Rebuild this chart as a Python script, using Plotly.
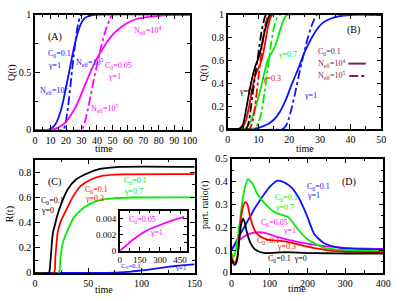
import plotly.graph_objects as go

# ---------------- DATA ----------------
# Panel A : Q(t)
tA_b_sol = [0, 7.5, 10, 12, 14, 16, 18, 20, 22, 24, 26, 28, 30, 32, 35, 40, 100]
qA_b_sol = [0, 0, 0.01, 0.03, 0.07, 0.14, 0.24, 0.37, 0.5, 0.64, 0.76, 0.86, 0.93, 0.97, 0.99, 1, 1]
tA_b_dd = [0, 18.5, 19, 20, 21, 22, 23, 24, 25, 26, 27, 28, 29, 30, 100]
qA_b_dd = [0, 0, 0.02, 0.08, 0.17, 0.28, 0.4, 0.53, 0.65, 0.76, 0.86, 0.93, 0.98, 1, 1]
tA_m_sol = [0, 10, 15, 20, 25, 28, 32, 36, 40, 44, 48, 52, 56, 60, 65, 70, 80, 90, 100]
qA_m_sol = [0, 0, 0.02, 0.07, 0.17, 0.25, 0.38, 0.51, 0.62, 0.71, 0.79, 0.85, 0.895, 0.93, 0.96, 0.975, 0.99, 1, 1]
tA_m_dd = [0, 30, 31, 32, 34, 36, 38, 40, 42, 44, 46, 48, 50, 100]
qA_m_dd = [0, 0, 0.02, 0.06, 0.17, 0.3, 0.44, 0.56, 0.68, 0.79, 0.88, 0.95, 1, 1]

# Panel B : Q(t), C0=0.1
tB_k_sol = [0, 3.5, 4, 5, 6, 7, 8, 9, 10, 11, 12, 13, 13.8, 50]
qB_k_sol = [0, 0, 0.005, 0.04, 0.17, 0.32, 0.45, 0.55, 0.62, 0.72, 0.85, 0.95, 1, 1]
tB_k_dd = [0, 6, 7, 8, 9, 10, 11, 12, 12.5, 50]
qB_k_dd = [0, 0, 0.08, 0.28, 0.48, 0.66, 0.85, 0.97, 1, 1]
tB_r_sol = [0, 4, 5, 6, 7, 8, 9, 10, 11, 12, 13, 14, 14.5, 50]
qB_r_sol = [0, 0, 0.02, 0.08, 0.2, 0.35, 0.47, 0.53, 0.6, 0.72, 0.88, 0.98, 1, 1]
tB_r_dd = [0, 7, 8, 9, 10, 11, 12, 13, 13.5, 50]
qB_r_dd = [0, 0, 0.05, 0.22, 0.45, 0.68, 0.88, 0.98, 1, 1]
tB_g_sol = [0, 5, 6, 7, 8, 9, 10, 11, 12, 13, 14, 15, 16, 17, 18, 19, 20, 50]
qB_g_sol = [0, 0, 0.01, 0.04, 0.1, 0.18, 0.28, 0.38, 0.5, 0.6, 0.65, 0.7, 0.77, 0.86, 0.94, 0.99, 1, 1]
tB_g_dd = [0, 8.5, 10, 11, 12, 13, 14, 15, 16, 17, 50]
qB_g_dd = [0, 0, 0.05, 0.15, 0.32, 0.52, 0.72, 0.88, 0.97, 1, 1]
tB_b_sol = [0, 7, 10, 13, 15, 17, 19, 21, 23, 25, 27, 29, 31, 33, 36, 40, 45, 50]
qB_b_sol = [0, 0, 0.01, 0.04, 0.08, 0.15, 0.26, 0.4, 0.53, 0.67, 0.78, 0.87, 0.93, 0.96, 0.985, 0.997, 1, 1]
tB_b_dd = [0, 18, 19, 20, 21, 22, 23, 24, 25, 26, 27, 28, 29, 50]
qB_b_dd = [0, 0, 0.03, 0.1, 0.2, 0.32, 0.45, 0.57, 0.68, 0.79, 0.88, 0.95, 1, 1]

# Panel C : R(t)
tC_k = [0, 13, 14, 15, 16, 17, 18.3, 20.8, 24.5, 30.6, 38.2, 48.9, 61, 79.5, 150]
rC_k = [0, 0, 0.05, 0.15, 0.26, 0.33, 0.37, 0.455, 0.547, 0.663, 0.74, 0.79, 0.826, 0.843, 0.843]
tC_r = [0, 17.7, 19, 20, 21.4, 24.5, 29, 35.2, 42.8, 52, 64, 82.6, 150]
rC_r = [0, 0, 0.12, 0.22, 0.33, 0.417, 0.495, 0.6, 0.69, 0.74, 0.772, 0.783, 0.785]
tC_g = [0, 22, 23.9, 26, 30.6, 36.7, 45.9, 58, 73.4, 91.7, 150]
rC_g = [0, 0, 0.13, 0.236, 0.34, 0.443, 0.52, 0.573, 0.593, 0.599, 0.6]
tC_b = [0, 60, 75, 90, 100, 110, 120, 130, 140, 150]
rC_b = [0, 0, 0.003, 0.01, 0.02, 0.03, 0.042, 0.053, 0.062, 0.068]
# inset : C0=0.05, gamma=1
tC_in = [0, 50, 100, 150, 200, 300, 400, 480]
rC_in = [0, 0.0007, 0.0014, 0.002, 0.0025, 0.0032, 0.0038, 0.0042]

# Panel D : participation ratio
tD_k = [0, 5, 9, 15, 20, 25, 30, 35, 40, 50, 60, 70, 85, 100, 130, 160, 200, 250, 300, 400]
pD_k = [0.06, 0.04, 0.035, 0.06, 0.14, 0.21, 0.237, 0.22, 0.18, 0.13, 0.105, 0.095, 0.088, 0.087, 0.09, 0.09, 0.087, 0.086, 0.085, 0.085]
tD_r = [0, 5, 9, 15, 20, 25, 30, 37, 42, 47, 55, 65, 75, 90, 110, 130, 150, 175, 200, 250, 300, 400]
pD_r = [0.07, 0.05, 0.045, 0.07, 0.15, 0.24, 0.29, 0.31, 0.3, 0.26, 0.21, 0.175, 0.16, 0.148, 0.142, 0.14, 0.135, 0.125, 0.115, 0.1, 0.093, 0.09]
tD_g = [0, 5, 10, 20, 30, 43, 55, 70, 90, 110, 130, 150, 175, 200, 244, 300, 400]
pD_g = [0.085, 0.07, 0.09, 0.2, 0.33, 0.41, 0.39, 0.34, 0.3, 0.27, 0.255, 0.244, 0.19, 0.147, 0.11, 0.1, 0.095]
tD_b = [0, 10, 20, 30, 40, 60, 80, 100, 120, 140, 160, 180, 200, 218, 244, 287, 400]
pD_b = [0.1, 0.13, 0.16, 0.19, 0.22, 0.28, 0.33, 0.375, 0.403, 0.395, 0.37, 0.32, 0.245, 0.17, 0.13, 0.11, 0.103]
tD_m = [0, 10, 25, 45, 70, 95, 115, 150, 200, 245, 300, 400]
pD_m = [0.1, 0.125, 0.15, 0.17, 0.178, 0.172, 0.16, 0.145, 0.128, 0.117, 0.11, 0.105]

inset_xticks = [0, 150, 300, 450]
inset_yticks = [0, 0.002, 0.004]
inset_yticklabels = ["0", "0.002", "0.004"]

# ---------------- STYLE ----------------
W, H = 402, 301
BLUE, MAG, RED, GRN, BLK = "#1010ff", "#ff00ff", "#ff0000", "#00ee00", "#000000"
LEG = "#7b2060"
SERIF = "Liberation Serif"
LW = 1.8
LS = 8  # label font size


def px(x, y):
    return x / W, 1 - y / H


fig = go.Figure()


def add(t, v, color, dash, xa, ya):
    fig.add_trace(go.Scatter(x=t, y=v, mode="lines", xaxis=xa, yaxis=ya,
                             line=dict(color=color, width=LW, dash=dash, shape="spline", smoothing=0.6),
                             showlegend=False, hoverinfo="skip"))


# A
add(tA_b_sol, qA_b_sol, BLUE, "solid", "x", "y")
add(tA_b_dd, qA_b_dd, BLUE, "dashdot", "x", "y")
add(tA_m_sol, qA_m_sol, MAG, "solid", "x", "y")
add(tA_m_dd, qA_m_dd, MAG, "dashdot", "x", "y")
# B
add(tB_b_sol, qB_b_sol, BLUE, "solid", "x2", "y2")
add(tB_b_dd, qB_b_dd, BLUE, "dashdot", "x2", "y2")
add(tB_g_sol, qB_g_sol, GRN, "solid", "x2", "y2")
add(tB_g_dd, qB_g_dd, GRN, "dashdot", "x2", "y2")
add(tB_r_sol, qB_r_sol, RED, "solid", "x2", "y2")
add(tB_r_dd, qB_r_dd, RED, "dashdot", "x2", "y2")
add(tB_k_sol, qB_k_sol, BLK, "solid", "x2", "y2")
add(tB_k_dd, qB_k_dd, BLK, "dashdot", "x2", "y2")
# C
add(tC_b, rC_b, BLUE, "solid", "x3", "y3")
add(tC_g, rC_g, GRN, "solid", "x3", "y3")
add(tC_r, rC_r, RED, "solid", "x3", "y3")
add(tC_k, rC_k, BLK, "solid", "x3", "y3")
# D
add(tD_m, pD_m, MAG, "solid", "x4", "y4")
add(tD_b, pD_b, BLUE, "solid", "x4", "y4")
add(tD_g, pD_g, GRN, "solid", "x4", "y4")
add(tD_r, pD_r, RED, "solid", "x4", "y4")
add(tD_k, pD_k, BLK, "solid", "x4", "y4")
# inset
add(tC_in, rC_in, MAG, "solid", "x5", "y5")


def ax(domain, rng, dtick, mdtick, anchor, size=10, **kw):
    d = dict(domain=domain, range=rng, anchor=anchor, showgrid=False, zeroline=False,
             showline=True, linecolor="black", linewidth=1.5, mirror="allticks",
             ticks="inside", ticklen=5, tickwidth=1, tickcolor="black",
             dtick=dtick, tick0=0,
             minor=dict(ticks="inside", ticklen=3, tickwidth=1, tickcolor="black", dtick=mdtick, tick0=0),
             tickfont=dict(family=SERIF, size=size, color="black"))
    d.update(kw)
    return d


def dom_x(a, b):
    return [a / W, b / W]


def dom_y(top, bot):
    return [1 - bot / H, 1 - top / H]


fig.update_layout(
    width=W, height=H, margin=dict(l=0, r=0, t=0, b=0),
    paper_bgcolor="white", plot_bgcolor="white",
    xaxis=ax(dom_x(33, 192), [0, 100], 10, 5, "y"),
    yaxis=ax(dom_y(9, 129), [0, 1], 0.5, 0.25, "x"),
    xaxis2=ax(dom_x(231, 389), [0, 50], 10, 5, "y2"),
    yaxis2=ax(dom_y(9, 128), [0, 1], 0.2, 0.1, "x2"),
    xaxis3=ax(dom_x(33, 197), [0, 150], 50, 25, "y3"),
    yaxis3=ax(dom_y(160, 278), [0, 0.9], 0.2, 0.1, "x3"),
    xaxis4=ax(dom_x(235, 391), [0, 400], 100, 50, "y4"),
    yaxis4=ax(dom_y(159, 278), [0, 0.5], 0.1, 0.05, "x4"),
    xaxis5=ax(dom_x(120, 189), [0, 500], None, 75, "y5", size=9,
              tickmode="array", tickvals=inset_xticks, ticklen=4),
    yaxis5=ax(dom_y(213, 255), [0, 0.005], None, 0.001, "x5", size=9,
              tickmode="array", tickvals=inset_yticks, ticktext=inset_yticklabels, ticklen=4),
)

# inset background
fig.add_shape(type="rect", xref="x5 domain", yref="y5 domain", x0=0, x1=1, y0=0, y1=1,
              fillcolor="white", line=dict(width=0), layer="below")

ann = []


def label(x, y, text, color, size=LS, xanchor="left", angle=0):
    xx, yy = px(x, y)
    ann.append(dict(x=xx, y=yy, xref="paper", yref="paper", text=text, showarrow=False,
                    xanchor=xanchor, yanchor="middle", textangle=angle,
                    font=dict(family=SERIF, size=size, color=color)))


C01 = "C<sub>0</sub>=0.1"
C005 = "C<sub>0</sub>=0.05"
N4 = "N<sub>eff</sub>=10<sup>4</sup>"
N5 = "N<sub>eff</sub>=10<sup>5</sup>"

# axis titles
label(10, 69, "Q(t)", "black", 10, "center", -90)
label(207, 70, "Q(t)", "black", 10, "center", -90)
label(8, 217, "R(t)", "black", 10, "center", -90)
label(207, 207, "part. ratio(t)", "black", 10, "center", -90)
label(104, 148, "time", "black", 10, "center")
label(311, 148, "time", "black", 10, "center")
label(104, 295, "time", "black", 10, "center")
label(302, 294, "time", "black", 10, "center")

# panel A
label(44, 32, "(A)", "black", 10)
label(44, 50, C01, BLUE)
label(44, 62, "γ=1", BLUE)
label(36, 88, N4, BLUE)
label(73, 59, N5, BLUE)
label(133, 25, N4, MAG)
label(103, 62, C005, MAG)
label(106, 73, "γ=1", MAG)
label(88, 107, N5, MAG)

# panel B
label(352, 25, "(B)", "black", 10)
label(241, 89, "γ=0", BLK)
label(264, 75, "γ=0.3", RED)
label(281, 50, "γ=0.7", GRN)
label(307, 93, "γ=1", BLUE)
label(322, 48, C01, LEG)
label(322, 60, N4, LEG)
label(322, 72, N5, LEG)
fig.add_shape(type="line", xref="paper", yref="paper", x0=355 / W, x1=373 / W,
              y0=1 - 60 / H, y1=1 - 60 / H, line=dict(color=LEG, width=2))
fig.add_shape(type="line", xref="paper", yref="paper", x0=356 / W, x1=374 / W,
              y0=1 - 73 / H, y1=1 - 73 / H, line=dict(color=LEG, width=2, dash="dashdot"))

# panel C
label(44, 183, "(C)", "black", 10)
label(37, 203, C01, BLK)
label(37, 213, "γ=0", BLK)
label(82, 192, C01, RED)
label(82, 201, "γ=0.3", RED)
label(122, 182, C01, GRN)
label(122, 193, "γ=0.7", GRN)
label(119, 271, C01, BLUE, 7)
label(175, 273, "γ=1", BLUE, 7)
label(127, 223, C005, MAG)
label(149, 236, "γ=1", MAG)

# panel D
label(346, 183, "(D)", "black", 10)
label(311, 189, C01, BLUE)
label(311, 197, "γ=1", BLUE)
label(278, 200, C01, GRN)
label(278, 210, "γ=0.7", GRN)
label(263, 226, C005, MAG)
label(286, 234, "γ=1", MAG)
label(259, 245, C01, RED)
label(280, 251, "γ=0.3", RED)
label(270, 263, C01 + "  γ=0", BLK)

fig.update_layout(annotations=ann)
fig.write_html("out.html", config={"displayModeBar": False},
               post_script="document.body.style.margin='0';document.body.style.padding='0';")
